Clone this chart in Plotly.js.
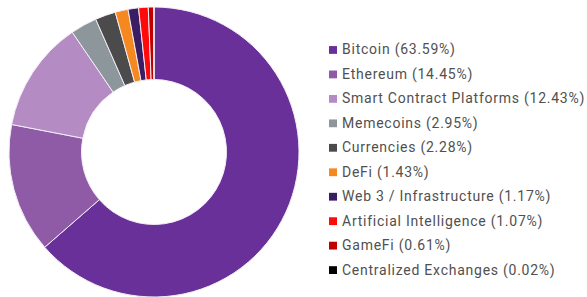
<!DOCTYPE html>
<html>
<head>
<meta charset="utf-8">
<script src="https://cdn.plot.ly/plotly-3.0.1.min.js"></script>
<style>html,body{margin:0;padding:0;background:#fff;}#chart{width:587px;height:297px;}
.annotation-text{letter-spacing:0.75px;}</style>
</head>
<body>
<div id="chart"></div>
<script>
const categories = ["Bitcoin","Ethereum","Smart Contract Platforms","Memecoins","Currencies","DeFi","Web 3 / Infrastructure","Artificial Intelligence","GameFi","Centralized Exchanges"];
const shares = [63.59,14.45,12.43,2.95,2.28,1.43,1.17,1.07,0.61,0.02];
const colors = ["#6a3099","#8f5ba6","#b58bc3","#8c969b","#4b4b4b","#f5891f","#3b1d63","#ff0a0a","#c00000","#000000"];

const W = 587, H = 297;
const legendLeft = 329, legendTop = 44, rowGap = 25.05, sq = 8;

const annotations = [], shapes = [];
categories.forEach((c, i) => {
  const yc = legendTop + i * rowGap;
  shapes.push({type:"rect", xref:"paper", yref:"paper",
    x0: legendLeft / W, x1: (legendLeft + sq) / W,
    y0: 1 - (yc + sq/2) / H, y1: 1 - (yc - sq/2) / H,
    fillcolor: colors[i], line:{width:0}});
  annotations.push({xref:"paper", yref:"paper", x:(legendLeft + sq + 3) / W, y: 1 - yc / H,
    xanchor:"left", yanchor:"middle", showarrow:false,
    text: c + " (" + shares[i].toFixed(2) + "%)",
    font:{family:"Roboto, sans-serif", size:14, color:"#505050"}});
});

const data = [{
  type:"pie", labels: categories, values: shares,
  hole: 0.5, sort:false, direction:"clockwise", rotation:0,
  textinfo:"none", hoverinfo:"label+percent",
  marker:{colors: colors, line:{color:"#f3eef7", width:1}},
  domain:{x:[9/W, 299/W], y:[0,1]},
  showlegend:false
}];
const layout = {
  width: W, height: H,
  margin:{l:0, r:0, t:7, b:0},
  paper_bgcolor:"#ffffff",
  showlegend:false,
  annotations, shapes
};
Plotly.newPlot("chart", data, layout, {displayModeBar:false, staticPlot:true});
</script>
</body>
</html>
